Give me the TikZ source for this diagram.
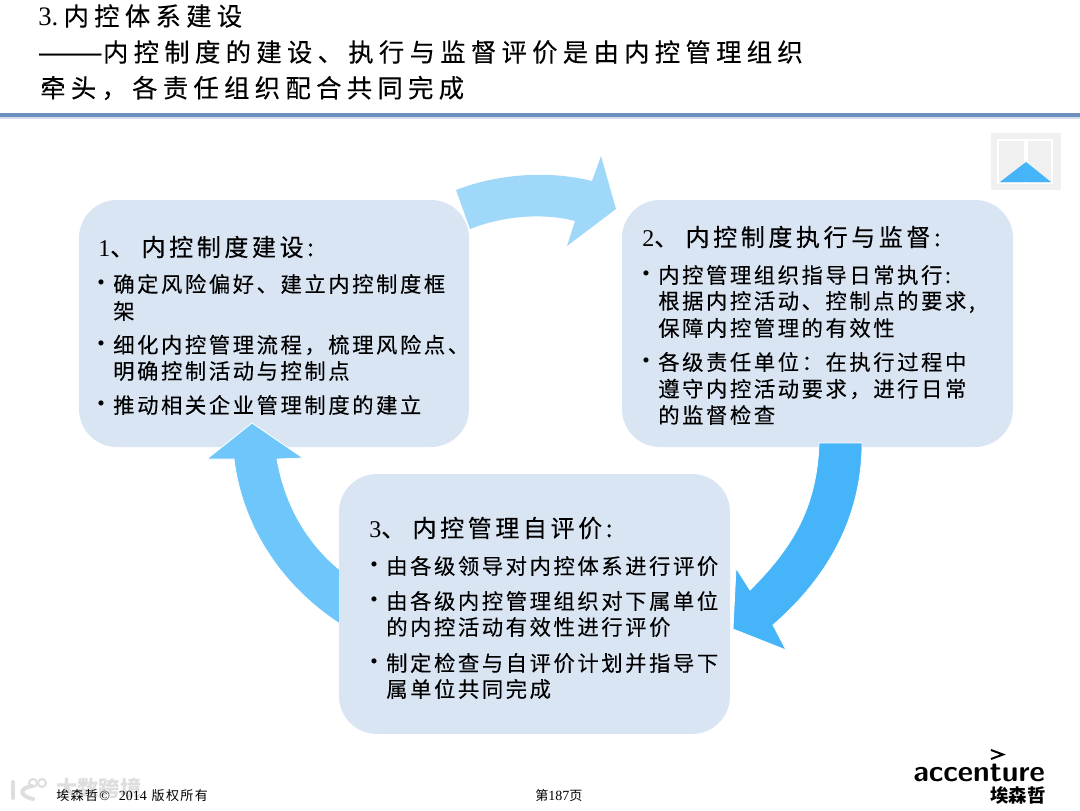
\documentclass[tikz,border=0pt]{standalone}
\usepackage{fontspec}
\setmainfont{Noto Sans CJK SC}
\newfontfamily\titlef[LetterSpace=21,FakeBold=0.2]{Noto Sans CJK SC}
\newfontfamily\headf[LetterSpace=15,FakeBold=0.25]{Noto Sans CJK SC}
\newfontfamily\bodyf[LetterSpace=12,FakeBold=0.15]{Noto Sans CJK SC}
\newfontfamily\footf[LetterSpace=10]{Noto Sans CJK SC}
\newfontfamily\latinf{Liberation Serif}
\definecolor{boxfill}{HTML}{DAE5F3}
\definecolor{lightarrow}{HTML}{A0D8FA}
\definecolor{midarrow}{HTML}{6EC6FA}
\definecolor{strongarrow}{HTML}{46B4F8}
\definecolor{rulecol}{HTML}{6C8FBF}
\tikzset{
 card/.style={fill=boxfill,draw=none,rounded corners=28.5pt},
 blockarrow/.style={draw=white,line width=0.6pt,line join=miter},
 titletext/.style={anchor=west,inner sep=0pt,font=\titlef\fontsize{19}{22}\selectfont},
 headtext/.style={anchor=west,inner sep=0pt,font=\headf\fontsize{18}{20}\selectfont},
 bodytext/.style={anchor=west,inner sep=0pt,font=\bodyf\fontsize{16}{18}\selectfont},
 bullet/.style={anchor=center,inner sep=0pt,font=\latinf\fontsize{16}{18}\selectfont},
 foot/.style={anchor=west,inner sep=0pt,font=\footf\fontsize{9.8}{11}\selectfont},
 watermark/.style={anchor=west,inner sep=0pt,text=black!13,font=\bfseries\fontsize{16}{18}\selectfont}
}
\begin{document}
\begin{tikzpicture}[x=0.75pt,y=-0.75pt]
\useasboundingbox (0,0) rectangle (1080,810);
\fill[white] (0,0) rectangle (1080,810);
% title
\node[titletext] (t1) at (38,16) {{\latinf\fontsize{20}{22}\selectfont 3.}\kern4pt 内控体系建设};
\node[titletext] (t2) at (37,52) {\scalebox{1.55}[1]{——}内控制度的建设、执行与监督评价是由内控管理组织};
\node[titletext] (t3) at (40,88) {牵头，各责任组织配合共同完成};
\fill[rulecol] (0,113) rectangle (1080,116.5);
\fill[rulecol!30] (0,116.5) rectangle (1080,119);
% corner icon
\fill[black!6] (991,133) rectangle (1061,190);
\fill[white] (997,139) rectangle (1053,184);
\fill[black!6] (999,141) rectangle (1024,183);
\fill[black!6] (1028,141) rectangle (1051,183);
\fill[strongarrow] (1000,182) -- (1026,162) -- (1051,182) -- cycle;
% upper cards
\fill[card] (79,200) rectangle (469,447);
\node (c1) at (274,323) {};
\fill[card] (622,200) rectangle (1013,447);
\node (c2) at (817,323) {};
% arrows
\fill[lightarrow] (456,190) .. controls (497,174) and (548,170) .. (592,181) -- (601,156) -- (616,209) -- (567,246) -- (575,221) .. controls (540,212) and (500,217) .. (470,229) -- cycle;
\fill[strongarrow,blockarrow] (819,443) -- (862,443) .. controls (862,520) and (825,580) .. (773,625) -- (786,650) -- (733,629) -- (736,568) -- (750,590) .. controls (790,550) and (817,510) .. (819,443) -- cycle;
\fill[midarrow,blockarrow] (340,624) .. controls (280,585) and (242,525) .. (234,459) -- (207,459) -- (252,423) -- (303,458) -- (277,459) .. controls (285,505) and (307,543) .. (340,570) -- cycle;
% lower card
\fill[card] (339,474) rectangle (730,734);
\node (c3) at (534,604) {};
% card 1
\node[headtext] (h1) at (98,247) {{\latinf 1}、\kern5.5pt 内控制度建设:};
\node[bullet] (b11) at (101,285) {•};
\node[bodytext] (a1) at (113,284) {确定风险偏好、建立内控制度框};
\node[bodytext] (a2) at (113,311) {架};
\node[bullet] (b12) at (101,346) {•};
\node[bodytext] (a3) at (113,345) {细化内控管理流程，梳理风险点、};
\node[bodytext] (a4) at (113,371) {明确控制活动与控制点};
\node[bullet] (b13) at (101,406) {•};
\node[bodytext] (a5) at (113,405) {推动相关企业管理制度的建立};
% card 2
\node[headtext] (h2) at (642,237) {{\latinf 2}、\kern5.5pt 内控制度执行与监督:};
\node[bullet] (b21) at (646,276) {•};
\node[bodytext] (d1) at (658,275) {内控管理组织指导日常执行:};
\node[bodytext] (d2) at (658,302) {根据内控活动、控制点的要求,};
\node[bodytext] (d3) at (658,328) {保障内控管理的有效性};
\node[bullet] (b22) at (646,363) {•};
\node[bodytext] (d4) at (658,362) {各级责任单位：在执行过程中};
\node[bodytext] (d5) at (658,389) {遵守内控活动要求，进行日常};
\node[bodytext] (d6) at (658,415) {的监督检查};
% card 3
\node[headtext] (h3) at (369,528) {{\latinf 3}、\kern5.5pt 内控管理自评价:};
\node[bullet] (b31) at (374,567) {•};
\node[bodytext] (e1) at (386,566) {由各级领导对内控体系进行评价};
\node[bullet] (b32) at (374,602) {•};
\node[bodytext] (e2) at (386,601) {由各级内控管理组织对下属单位};
\node[bodytext] (e3) at (386,627) {的内控活动有效性进行评价};
\node[bullet] (b33) at (374,664) {•};
\node[bodytext] (e4) at (386,663) {制定检查与自评价计划并指导下};
\node[bodytext] (e5) at (386,689) {属单位共同完成};
% watermark
\draw[black!13,line width=3pt,line cap=round] (13,782) -- (13,798);
\draw[black!13,line width=3pt,line cap=round] (32,786) .. controls (19,788) and (19,796) .. (33,799);
\draw[black!13,line width=1.5pt] (33,783) circle (4);
\draw[black!13,line width=1.5pt] (42,783) circle (4);
\node[watermark] (wm) at (56,788) {大数跨境};
% footer
\node[foot] (f1) at (56,796) {埃森哲{\latinf\fontsize{10.5}{11}\selectfont \kern1pt© \kern4pt 2014 }\kern1pt 版权所有};
\node[foot] (f2) at (535,796) {第{\latinf\fontsize{10.5}{11}\selectfont 187}页};
% logo
\node[anchor=center,inner sep=0pt,font=\fontsize{22.3}{26}\selectfont\bfseries\sffamily] (l1) at (979,773) {accenture};
\node[anchor=center,inner sep=0pt,font=\fontsize{13.8}{15}\selectfont\bfseries] (l2) at (1018,795) {埃森哲};
\draw[line width=1.5pt] (991,750) -- (1003,754.5) -- (991,759);
\end{tikzpicture}
\end{document}
